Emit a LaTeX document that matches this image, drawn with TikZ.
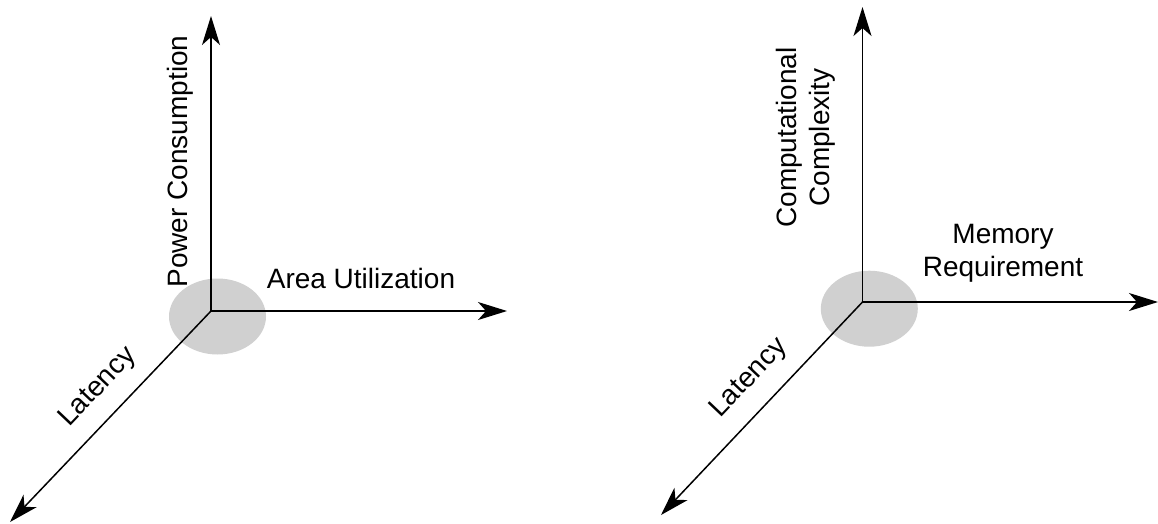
\documentclass[tikz,border=0pt]{standalone}
\usepackage{fontspec}
\setmainfont{Liberation Sans}
\usetikzlibrary{arrows.meta,shapes.geometric}
\definecolor{hubgray}{RGB}{208,208,208}
\tikzset{
  axis/.style={line width=1.5pt, -{Stealth[length=29pt,width=18pt,inset=8pt]}},
  hub/.style={ellipse, fill=hubgray, draw=none, minimum width=97pt, minimum height=76pt, inner sep=0pt},
  lbl/.style={font=\fontsize{28}{33}\selectfont, inner sep=0pt, align=center},
}
\begin{document}
\begin{tikzpicture}[x=1pt,y=-1pt]
\useasboundingbox (0,0) rectangle (1158,523);

% hardware design space
\node[hub] (hubA) at (217.5,316.5) {};
\coordinate (oA) at (211,311);
\coordinate (upA) at (211,16);
\coordinate (rtA) at (507,311);
\coordinate (dlA) at (10,522);
\draw[axis] (oA) -- (upA);
\draw[axis] (oA) -- (rtA);
\draw[axis] (oA) -- (dlA);
\node[lbl, rotate=90, anchor=base] (powA) at (187,161.5) {Power Consumption};
\node[lbl, anchor=base] (areaA) at (361,288) {Area Utilization};
\node[lbl, rotate=46.5, anchor=base] (latA) at (103,392) {Latency};

% algorithm design space
\node[hub] (hubB) at (869.3,308.7) {};
\coordinate (oB) at (862.5,302);
\coordinate (upB) at (862.5,7);
\coordinate (rtB) at (1158,302);
\coordinate (dlB) at (661,515);
\draw[axis] (oB) -- (upB);
\draw[axis] (oB) -- (rtB);
\draw[axis] (oB) -- (dlB);
\node[lbl, rotate=90] (compB) at (805.5,137.5) {Computational\\Complexity};
\node[lbl] (memB) at (1003,253) {Memory\\Requirement};
\node[lbl, rotate=46.5, anchor=base] (latB) at (754,383) {Latency};
\end{tikzpicture}
\end{document}
